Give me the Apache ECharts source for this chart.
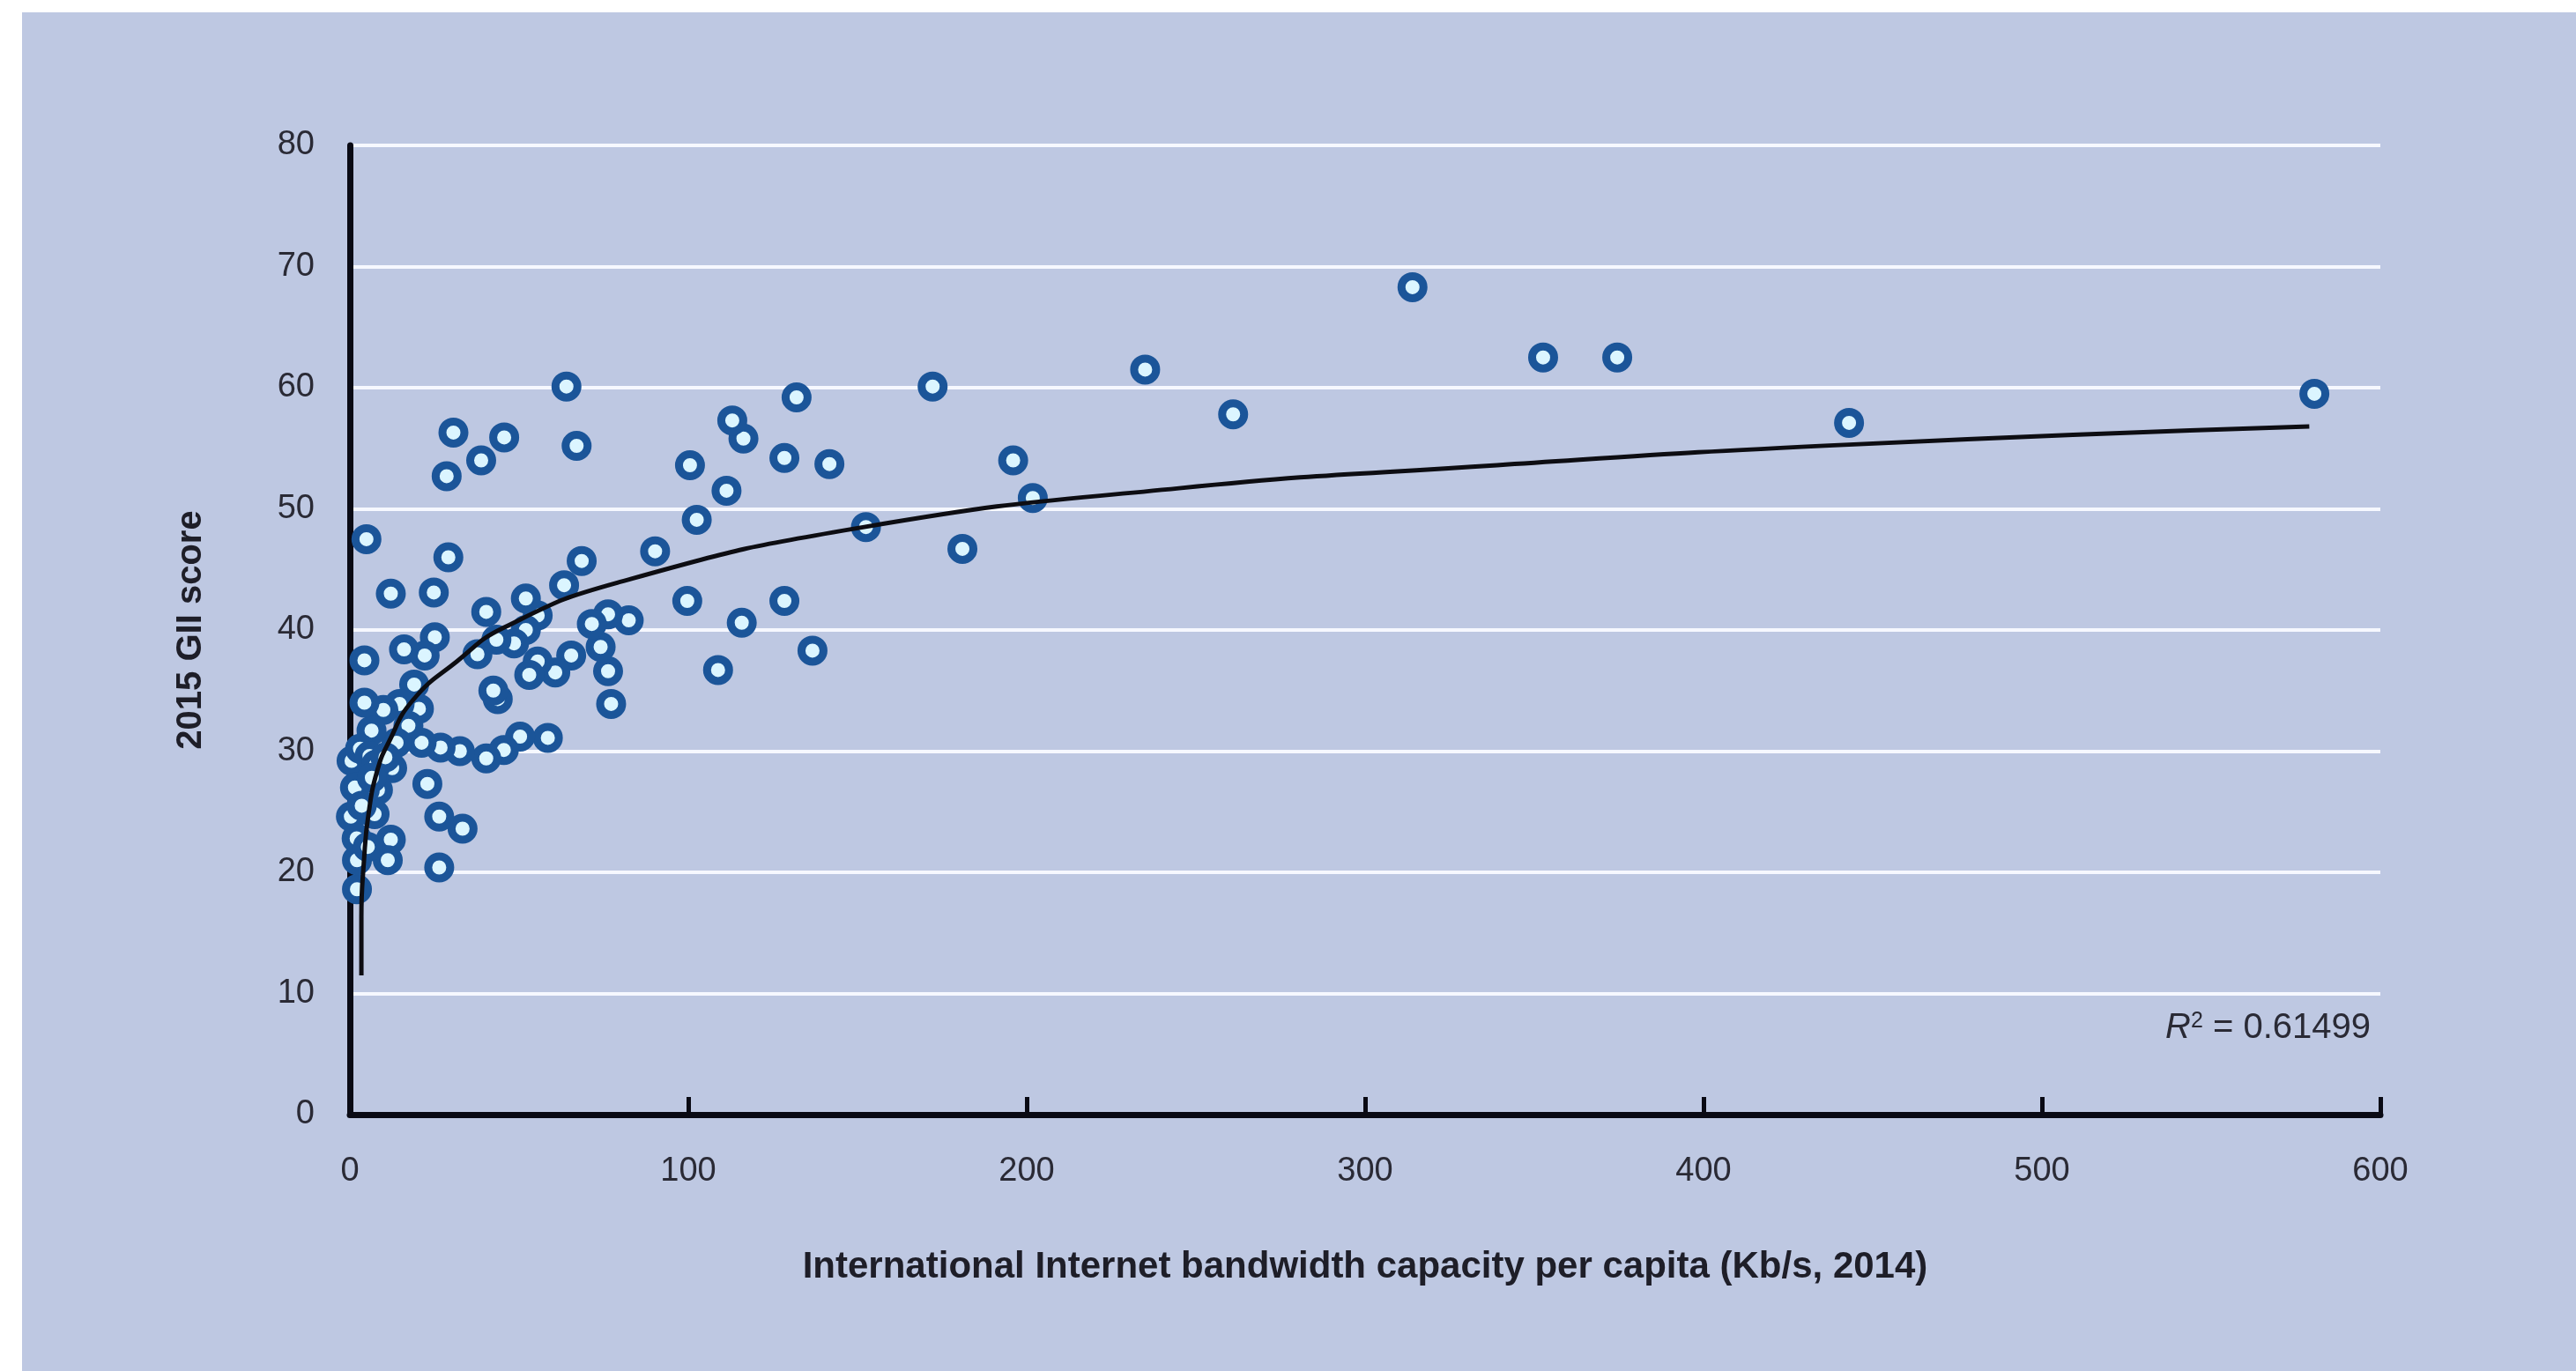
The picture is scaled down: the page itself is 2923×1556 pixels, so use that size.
<!DOCTYPE html>
<html>
<head>
<meta charset="utf-8">
<script src="https://cdn.jsdelivr.net/npm/echarts@6/dist/echarts.min.js"></script>
<style>
  html, body { margin: 0; padding: 0; background: #ffffff; width: 2923px; height: 1556px; overflow: hidden; }
  #panel { position: absolute; left: 25px; top: 14px; right: 0; bottom: 0; background: #bec8e2; }
  #chart { position: absolute; left: 0; top: 0; width: 2923px; height: 1556px; }
</style>
</head>
<body>
<div id="panel"></div>
<div id="chart"></div>
<script>
// Axis ticks
const xTicks = [0, 100, 200, 300, 400, 500, 600];
const yTicks = [0, 10, 20, 30, 40, 50, 60, 70, 80];

// Economies: [bandwidth per capita (Kb/s, 2014), 2015 GII score]
const bandwidth = [
  580.5, 443, 374.5, 352.6, 314, 261, 235, 201.8, 196, 181,
  172.2, 152.5, 141.7, 136.7, 132, 128.4, 128.4, 115.8, 116.3, 113,
  111.3, 108.8, 102.5, 100.5, 99.7, 90.2, 82.4, 76.3, 77.2, 76.3,
  74.1, 71.5, 68.5, 67, 65.4, 64, 63.3, 60.7, 58.5, 55.5,
  55.5, 53, 52, 52, 50.3, 48.5, 45.6, 45.5, 43.7, 42.4,
  43.3, 40.3, 40.3, 38.8, 37.7, 32.5, 33.3, 30.6, 29.1, 28.6,
  26.8, 26.4, 26.4, 25.1, 24.8, 22.1, 22.9, 21.2, 20.4, 19.0,
  17.3, 16.0, 14.7, 13.8, 12.1, 12.1, 11.2, 12.5, 9.9, 8.3,
  7.3, 6.4, 4.9, 4.3, 4.3, 3.4, 2.1, 2.1, 0.3, 0.5,
  3.0, 4.4, 5.8, 2.0, 5.3, 7.8, 1.5, 3.5, 10.5, 6.5
];
const giiScore = [
  59.5, 57.1, 62.5, 62.5, 68.3, 57.8, 61.5, 50.9, 54.0, 46.7,
  60.1, 48.5, 53.7, 38.3, 59.2, 54.2, 42.4, 40.6, 55.8, 57.3,
  51.5, 36.7, 49.1, 53.6, 42.4, 46.5, 40.8, 41.3, 33.9, 36.6,
  38.6, 40.5, 45.7, 55.2, 37.9, 60.1, 43.7, 36.5, 31.1, 37.4,
  41.2, 36.3, 42.6, 40.0, 31.2, 38.9, 55.9, 30.1, 34.3, 35.0,
  39.2, 41.5, 29.4, 54.0, 38.0, 30.0, 23.6, 56.3, 46.0, 52.7,
  30.3, 24.6, 20.4, 39.4, 43.1, 37.9, 27.3, 30.7, 33.5, 35.5,
  32.1, 38.4, 33.9, 30.7, 43.0, 22.7, 21.0, 28.6, 33.4, 26.8,
  24.8, 31.7, 47.5, 37.5, 34.0, 28.2, 18.6, 21.0, 24.6, 29.2,
  30.2, 26.8, 29.6, 22.8, 22.1, 28.9, 27.0, 25.5, 29.5, 27.8
];

// Logarithmic trend line
const trendX = [3.4, 3.4, 4.2, 5.5, 8.1, 11.6, 18.6, 31.6, 45.5, 79, 152, 245, 339, 443, 579];
const trendY = [11.5, 16.3, 21.1, 24.8, 28.4, 30.8, 34.2, 37.4, 40.2, 43.9, 48.5, 51.7, 53.6, 55.3, 56.8];

const rSquared = '0.61499';
const xName = 'International Internet bandwidth capacity per capita (Kb/s, 2014)';
const yName = '2015 GII score';

const scatterData = bandwidth.map((x, i) => [x, giiScore[i]]);
const trendData = trendX.map((x, i) => [x, trendY[i]]);

const narrow = '"Liberation Sans Narrow", "Arial Narrow", "Liberation Sans", sans-serif';

const chart = echarts.init(document.getElementById('chart'), null, { renderer: 'canvas' });
chart.setOption({
  backgroundColor: 'transparent',
  animation: false,
  grid: { left: 397, right: 222, top: 165, bottom: 291, containLabel: false },
  xAxis: {
    type: 'value', min: xTicks[0], max: xTicks[xTicks.length - 1], interval: 100,
    name: xName, nameLocation: 'middle', nameGap: 152,
    nameTextStyle: { fontFamily: narrow, fontWeight: 'bold', fontSize: 42, color: '#1e1e28' },
    axisLine: { show: true, onZero: false, lineStyle: { color: '#0a0a14', width: 7 } },
    axisTick: { show: true, inside: true, length: 20, lineStyle: { color: '#0a0a14', width: 5 } },
    axisLabel: { margin: 46, fontFamily: narrow, fontSize: 38, color: '#2a2a35' },
    splitLine: { show: false }
  },
  yAxis: {
    type: 'value', min: yTicks[0], max: yTicks[yTicks.length - 1], interval: 10,
    name: yName, nameLocation: 'middle', nameGap: 160, nameRotate: 90,
    nameTextStyle: { fontFamily: '"Liberation Sans", Arial, sans-serif', fontWeight: 'bold', fontSize: 40, color: '#1e1e28' },
    axisLine: { show: true, lineStyle: { color: '#0a0a14', width: 7 } },
    axisTick: { show: false },
    axisLabel: { margin: 40, fontFamily: narrow, fontSize: 38, color: '#2a2a35' },
    splitLine: { show: true, lineStyle: { color: '#f6f8ff', width: 4 } }
  },
  series: [
    {
      type: 'scatter',
      data: scatterData,
      symbol: 'circle',
      symbolSize: 25,
      itemStyle: { color: '#dbf5ff', borderColor: '#1b5599', borderWidth: 9, opacity: 1 },
      z: 2
    },
    {
      type: 'line',
      data: trendData,
      smooth: 0.5,
      showSymbol: false,
      symbol: 'none',
      lineStyle: { color: '#0d0d12', width: 5 },
      z: 3
    }
  ],
  graphic: [
    {
      type: 'text',
      right: 2923 - 2690,
      top: 1147,
      style: {
        text: '{r|R}{s|2}{n| = ' + rSquared + '}',
        rich: {
          r: { fontFamily: narrow, fontStyle: 'italic', fontSize: 40, fill: '#2a2a35', verticalAlign: 'bottom' },
          s: { fontFamily: narrow, fontSize: 25, fill: '#2a2a35', verticalAlign: 'top' },
          n: { fontFamily: narrow, fontSize: 40, fill: '#2a2a35', verticalAlign: 'bottom' }
        }
      }
    }
  ]
});
</script>
</body>
</html>
